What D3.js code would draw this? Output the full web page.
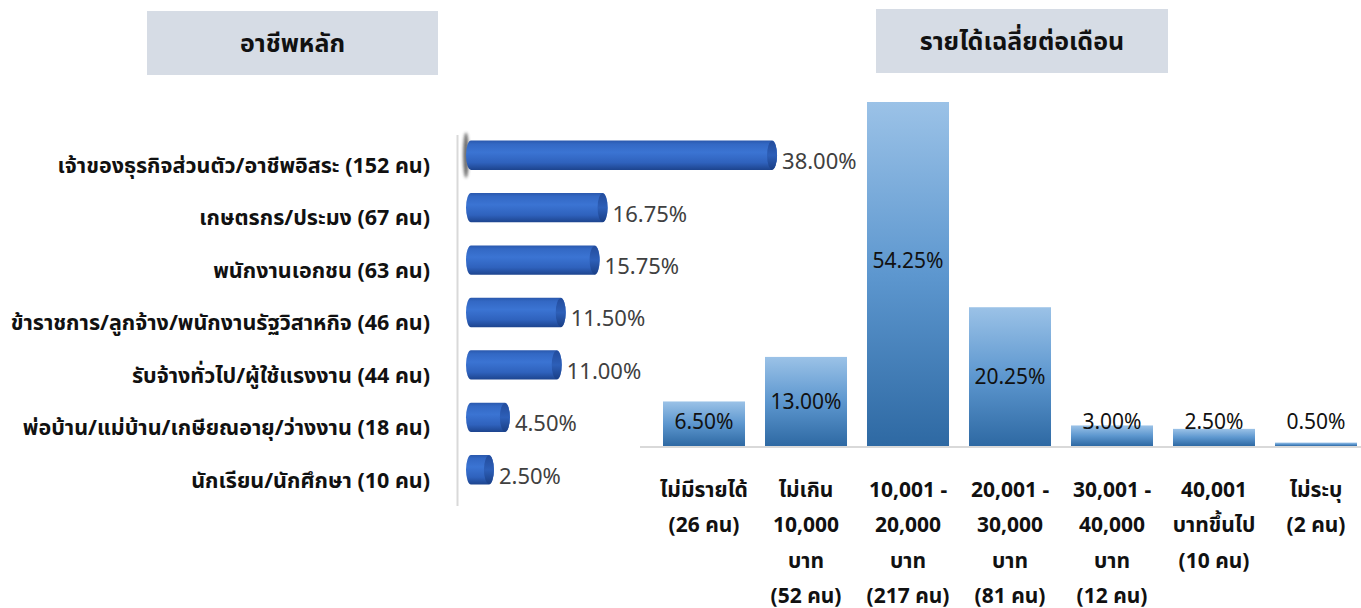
<!DOCTYPE html>
<html><head><meta charset="utf-8">
<script src="https://cdn.jsdelivr.net/npm/d3@7"></script>
<style>
html,body{margin:0;padding:0;background:#fff;}
svg{display:block;font-family:"Noto Sans","Noto Sans Thai",Tahoma,sans-serif;}
</style></head>
<body><svg id="c" width="1361" height="608"></svg>
<script>
// ---- data ----
const occTitle = "อาชีพหลัก";
const occCategories = [
  "เจ้าของธุรกิจส่วนตัว/อาชีพอิสระ (152 คน)",
  "เกษตรกร/ประมง (67 คน)",
  "พนักงานเอกชน (63 คน)",
  "ข้าราชการ/ลูกจ้าง/พนักงานรัฐวิสาหกิจ (46 คน)",
  "รับจ้างทั่วไป/ผู้ใช้แรงงาน (44 คน)",
  "พ่อบ้าน/แม่บ้าน/เกษียณอายุ/ว่างงาน (18 คน)",
  "นักเรียน/นักศึกษา (10 คน)"
];
const occValues = [38.00, 16.75, 15.75, 11.50, 11.00, 4.50, 2.50];

const incTitle = "รายได้เฉลี่ยต่อเดือน";
const incCategories = [
  ["ไม่มีรายได้", "(26 คน)"],
  ["ไม่เกิน", "10,000", "บาท", "(52 คน)"],
  ["10,001 -", "20,000", "บาท", "(217 คน)"],
  ["20,001 -", "30,000", "บาท", "(81 คน)"],
  ["30,001 -", "40,000", "บาท", "(12 คน)"],
  ["40,001", "บาทขึ้นไป", "(10 คน)"],
  ["ไม่ระบุ", "(2 คน)"]
];
const incValues = [6.50, 13.00, 54.25, 20.25, 3.00, 2.50, 0.50];

const fmt = v => v.toFixed(2) + "%";

const svg = d3.select("#c");
const defs = svg.append("defs");

// gradients
const cyl = defs.append("linearGradient").attr("id","cyl").attr("x1",0).attr("y1",0).attr("x2",0).attr("y2",1);
[[0,"#2a58ad"],[0.12,"#3368c4"],[0.4,"#3b74d3"],[0.75,"#2f62bd"],[1,"#1d448e"]].forEach(s=>cyl.append("stop").attr("offset",s[0]).attr("stop-color",s[1]));
const cap = defs.append("linearGradient").attr("id","cap").attr("x1",0).attr("y1",0).attr("x2",0).attr("y2",1);
[[0,"#234c9c"],[0.5,"#2d5fb8"],[1,"#1a3f86"]].forEach(s=>cap.append("stop").attr("offset",s[0]).attr("stop-color",s[1]));
const colg = defs.append("linearGradient").attr("id","colg").attr("x1",0).attr("y1",0).attr("x2",0).attr("y2",1);
[[0,"#9bc2e7"],[0.5,"#5d97cf"],[1,"#2e69a3"]].forEach(s=>colg.append("stop").attr("offset",s[0]).attr("stop-color",s[1]));
const blur = defs.append("filter").attr("id","blur").attr("x","-100%").attr("y","-50%").attr("width","300%").attr("height","200%");
blur.append("feGaussianBlur").attr("stdDeviation",1.6);

// ---- titles ----
function titleBox(x, y, w, h, text){
  svg.append("rect").attr("x",x).attr("y",y).attr("width",w).attr("height",h).attr("fill","#d6dce5");
  svg.append("text").attr("x",x+w/2).attr("y",y+h/2).attr("dy","0.36em").attr("text-anchor","middle")
    .attr("font-size",25).attr("font-weight","bold").attr("fill","#111").text(text);
}
titleBox(147, 11, 291, 64, occTitle);
titleBox(876, 9, 292, 64, incTitle);

// ---- left chart: horizontal cylinders ----
const xL = d3.scaleLinear().domain([0, 40]).range([474, 793]);
const yL = d3.scaleBand().domain(occCategories).range([129, 496]).paddingInner(0.44).paddingOuter(0.22);
const barStart = 466;

svg.append("line").attr("x1",457.5).attr("x2",457.5).attr("y1",135).attr("y2",506)
  .attr("stroke","#d9d9d9").attr("stroke-width",2);
// soft shadow near first bar
svg.append("ellipse").attr("cx",466).attr("cy",yL(occCategories[0])+yL.bandwidth()/2)
  .attr("rx",3).attr("ry",yL.bandwidth()/2+8).attr("fill","#333").attr("opacity",0.7).attr("filter","url(#blur)");

const gL = svg.append("g");
occCategories.forEach((c,i)=>{
  const y0 = yL(c), h = yL.bandwidth(), x1 = xL(occValues[i]);
  const rx = 5, ry = h/2, cy = y0 + h/2;
  gL.append("path").attr("d",
    `M${barStart+rx},${y0} L${x1-rx},${y0} A${rx},${ry} 0 0 1 ${x1-rx},${y0+h} L${barStart+rx},${y0+h} A${rx},${ry} 0 0 1 ${barStart+rx},${y0} Z`)
    .attr("fill","url(#cyl)");
  gL.append("ellipse").attr("cx",x1-rx).attr("cy",cy).attr("rx",rx).attr("ry",ry-0.5).attr("fill","url(#cap)");
  gL.append("text").attr("x",x1+5).attr("y",cy+6).attr("dy","0.36em").attr("font-size",22).attr("fill","#404040").text(fmt(occValues[i]));
  gL.append("text").attr("x",430).attr("y",cy+10).attr("dy","0.36em").attr("text-anchor","end")
    .attr("font-size",21.5).attr("font-weight","bold").attr("fill","#111").text(c);
});

// ---- right chart: columns ----
const keys = incCategories.map((d,i)=>"c"+i);
const xR = d3.scaleBand().domain(keys).range([663, 1357]).paddingInner(0.196).paddingOuter(0);
const yR = d3.scaleLinear().domain([0, 50.2]).range([446, 102]);
const gR = svg.append("g");
incValues.forEach((v,i)=>{
  const x = xR(keys[i]), w = xR.bandwidth();
  const top = Math.max(yR(v), yR(yR.domain()[1]));
  gR.append("rect").attr("x",x).attr("y",top).attr("width",w).attr("height",yR(0)-top).attr("fill","url(#colg)");
  const cyv = Math.min((yR(v)+yR(0))/2, yR(0)-25);
  gR.append("text").attr("x",x+w/2).attr("y",cyv).attr("dy","0.36em").attr("text-anchor","middle")
    .attr("font-size",21).attr("fill","#111").text(fmt(v));
  incCategories[i].forEach((line,j)=>{
    gR.append("text").attr("x",x+w/2).attr("y",489+j*35.5).attr("dy","0.36em").attr("text-anchor","middle")
      .attr("font-size",21).attr("font-weight","bold").attr("fill","#111").text(line);
  });
});
svg.append("line").attr("x1",640).attr("x2",1361).attr("y1",447).attr("y2",447).attr("stroke","#d9d9d9").attr("stroke-width",2);
</script></body></html>
